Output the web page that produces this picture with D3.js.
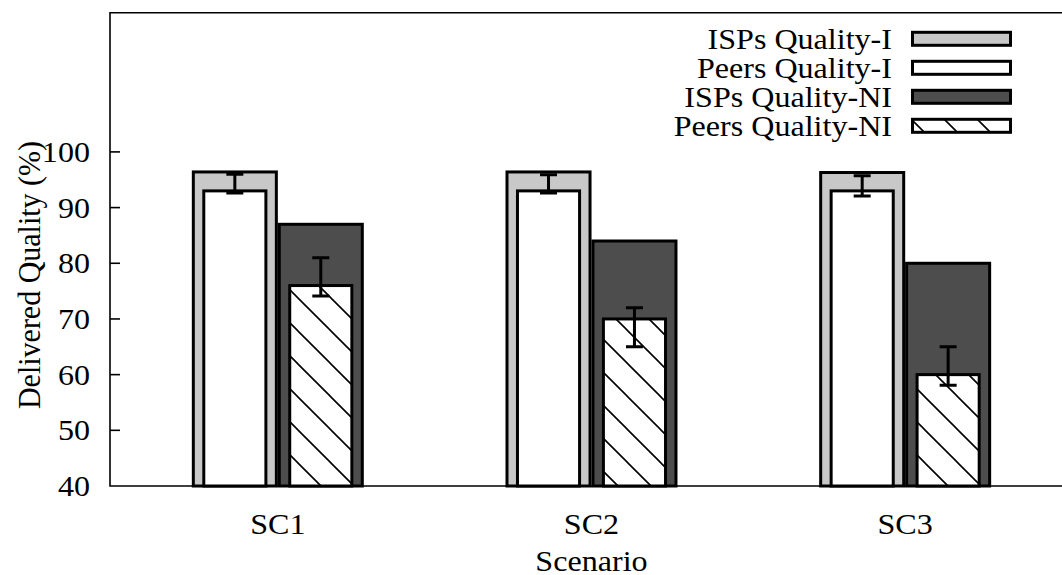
<!DOCTYPE html>
<html><head><meta charset="utf-8">
<script src="https://cdn.jsdelivr.net/npm/d3@7"></script>
<style>body{margin:0;background:#fff}svg{display:block}text{font-family:"Liberation Serif","Times New Roman",serif;fill:#000}</style>
</head><body>
<script>
const categories = ["SC1","SC2","SC3"];
const ispsI = [96.4, 96.4, 96.3];
const peersI = [93, 93, 93];
const peersIErrLow = [92.6, 92.6, 92.1];
const peersIErrHigh = [96, 95.9, 95.7];
const ispsNI = [87, 84, 80];
const peersNI = [76, 70, 60];
const peersNIErrLow = [74.1, 65, 58.1];
const peersNIErrHigh = [81, 72, 65];
const yTicks = [40,50,60,70,80,90,100];
const legendLabels = ["ISPs Quality-I","Peers Quality-I","ISPs Quality-NI","Peers Quality-NI"];

const W = 1062, H = 575;
const FS = 30, SX = 1.07;
const svg = d3.select("body").append("svg").attr("width", W).attr("height", H);
const defs = svg.append("defs");
const pat = defs.append("pattern").attr("id","hatch").attr("patternUnits","userSpaceOnUse")
  .attr("width",33).attr("height",33);
pat.append("rect").attr("width",33).attr("height",33).attr("fill","#fff");
pat.append("path").attr("d","M-5,-5L38,38M-38,-5L5,38M28,-5L71,38").attr("stroke","#000").attr("stroke-width",1.6);

const x = d3.scaleLinear().domain([-0.535, 2.5]).range([110, 1062]);
const y = d3.scaleLinear().domain([40, 125]).range([486, 12.7]);
const off = 0.137, wI = 0.2647, wP = 0.198;
const fills = {ispI:"#c8c8c8", peer:"#fff", ispNI:"#4d4d4d"};

// frame
svg.append("path").attr("d", `M${x(2.5)+5},${y(125)}H${x.range()[0]}V${y(40)}H${x(2.5)+5}`)
  .attr("fill","none").attr("stroke","#000").attr("stroke-width",1.6);

// y ticks
const yAxis = svg.append("g");
yTicks.forEach(t => {
  if (t > 40) yAxis.append("line").attr("x1",110).attr("x2",120).attr("y1",y(t)).attr("y2",y(t)).attr("stroke","#000").attr("stroke-width",1.6);
  yAxis.append("text").attr("transform",`translate(90,${y(t)+10}) scale(${SX},1)`).attr("text-anchor","end").attr("font-size",FS).text(t);
});

function bar(cx, w, v, fill) {
  svg.append("rect").attr("x", x(cx - w/2)).attr("width", x(cx + w/2) - x(cx - w/2))
    .attr("y", y(v)).attr("height", y(40) - y(v))
    .attr("fill", fill).attr("stroke","#000").attr("stroke-width",3);
}
function err(cx, lo, hi) {
  const px = x(cx);
  svg.append("path").attr("d",`M${px},${y(lo)}V${y(hi)}M${px-8.5},${y(lo)}H${px+8.5}M${px-8.5},${y(hi)}H${px+8.5}`)
    .attr("stroke","#000").attr("stroke-width",3).attr("fill","none");
}
categories.forEach((c,i) => {
  bar(i - off, wI, ispsI[i], fills.ispI);
  bar(i - off, wP, peersI[i], fills.peer);
  err(i - off, peersIErrLow[i], peersIErrHigh[i]);
  bar(i + off, wI, ispsNI[i], fills.ispNI);
  bar(i + off, wP, peersNI[i], "url(#hatch)");
  err(i + off, peersNIErrLow[i], peersNIErrHigh[i]);
  svg.append("text").attr("transform",`translate(${x(i)},${534}) scale(${SX},1)`).attr("text-anchor","middle").attr("font-size",FS).text(c);
});

svg.append("text").attr("transform",`translate(${x(1)},${571}) scale(${SX},1)`).attr("text-anchor","middle").attr("font-size",FS).text("Scenario");
svg.append("text").attr("transform",`translate(40,275) scale(${SX},1) rotate(-90)`).attr("text-anchor","middle").attr("font-size",FS).text("Delivered Quality (%)");

// legend
const legFills = [fills.ispI, fills.peer, fills.ispNI, "url(#hatch)"];
legendLabels.forEach((l,i) => {
  const cy = 38.8 + i*29;
  svg.append("text").attr("transform",`translate(892,${cy+10}) scale(${SX},1)`).attr("text-anchor","end").attr("font-size",FS).text(l);
  svg.append("rect").attr("x",912.5).attr("y",cy-6.5).attr("width",98).attr("height",13)
    .attr("fill",legFills[i]).attr("stroke","#000").attr("stroke-width",3);
});
</script>
</body></html>
